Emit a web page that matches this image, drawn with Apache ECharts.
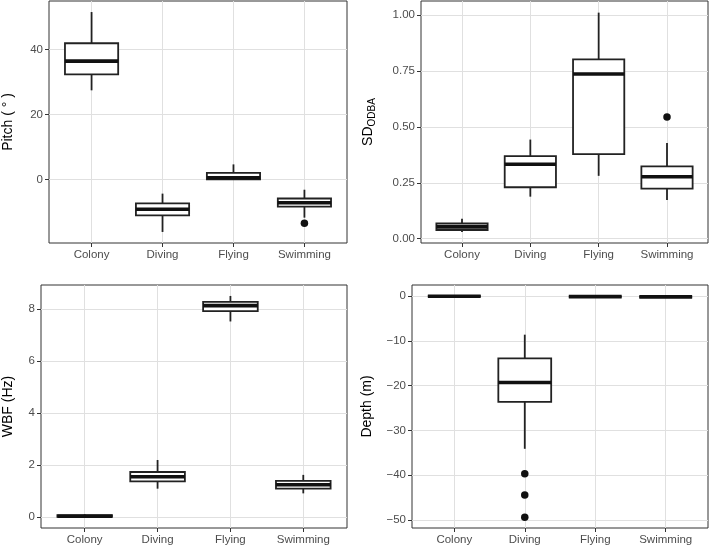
<!DOCTYPE html>
<html>
<head>
<meta charset="utf-8">
<script src="https://cdn.jsdelivr.net/npm/echarts@6/dist/echarts.min.js"></script>
<style>
  html, body { margin: 0; padding: 0; background: #fff; }
  #chart { width: 709px; height: 546px; }
</style>
</head>
<body>
<div id="chart"></div>
<script>
// ---------- data ----------
const categories = ['Colony', 'Diving', 'Flying', 'Swimming'];

// each row: [lower whisker, Q1, median, Q3, upper whisker]
const pitchBox = [
  [27.5, 32.4, 36.5, 42.0, 51.6],
  [-16.1, -11.0, -9.1, -7.3, -4.3],
  [0.0, 0.1, 0.6, 2.1, 4.7],
  [-11.7, -8.3, -7.1, -5.8, -3.1]
];
const pitchOutliers = [['Swimming', -13.4]];

const sdBox = [
  [0.030, 0.039, 0.053, 0.068, 0.089],
  [0.188, 0.230, 0.333, 0.369, 0.443],
  [0.281, 0.378, 0.736, 0.801, 1.010],
  [0.173, 0.224, 0.277, 0.323, 0.428]
];
const sdOutliers = [['Swimming', 0.544]];

const wbfBox = [
  [0.00, 0.02, 0.04, 0.08, 0.12],
  [1.10, 1.38, 1.56, 1.74, 2.20],
  [7.52, 7.92, 8.13, 8.27, 8.50],
  [0.92, 1.10, 1.25, 1.40, 1.63]
];
const wbfOutliers = [];

const depthBox = [
  [0.0, 0.0, 0.0, 0.0, 0.0],
  [-34.1, -23.6, -19.3, -13.9, -8.6],
  [-0.1, -0.1, -0.1, -0.1, -0.1],
  [-0.15, -0.15, -0.15, -0.15, -0.15]
];
const depthOutliers = [['Diving', -39.7], ['Diving', -44.4], ['Diving', -49.4]];

const pitchTicks = [0, 20, 40];
const sdTicks = [0, 0.25, 0.5, 0.75, 1.0];
const wbfTicks = [0, 2, 4, 6, 8];
const depthTicks = [0, -10, -20, -30, -40, -50];

// ---------- styling ----------
const FONT = 'Liberation Sans, Arial, sans-serif';
const INK = '#222';
const GRIDC = '#e0e0e0';
const catPos = categories.map((c, i) => i + 1);

const panels = [
  { box: pitchBox, out: pitchOutliers, ticks: pitchTicks, min: -19.5, max: 55.0,
    grid: { left: 48, top: 1, width: 299, height: 242 },
    name: 'Pitch ( ° )', nameGap: 34, fmt: v => String(v) },
  { box: sdBox, out: sdOutliers, ticks: sdTicks, min: -0.019, max: 1.062,
    grid: { left: 421, top: 1, width: 287, height: 242 },
    name: '{a|SD}{b|ODBA}', nameGap: 44, fmt: v => v.toFixed(2) },
  { box: wbfBox, out: wbfOutliers, ticks: wbfTicks, min: -0.41, max: 8.92,
    grid: { left: 39, top: 285, width: 308, height: 243 },
    name: 'WBF (Hz)', nameGap: 26, fmt: v => String(v) },
  { box: depthBox, out: depthOutliers, ticks: depthTicks, min: -51.8, max: 2.5,
    grid: { left: 412, top: 285, width: 296, height: 243 },
    name: 'Depth (m)', nameGap: 38, fmt: v => String(v).replace('-', '\u2212') }
];

function renderBox(params, api) {
  const x = api.value(0);
  const lo = api.coord([x, api.value(1)]);
  const q1 = api.coord([x, api.value(2)]);
  const md = api.coord([x, api.value(3)]);
  const q3 = api.coord([x, api.value(4)]);
  const hi = api.coord([x, api.value(5)]);
  const hw = api.size([0.75, 0])[0] / 2;
  return {
    type: 'group',
    children: [
      { type: 'line', shape: { x1: lo[0], y1: lo[1], x2: q1[0], y2: q1[1] },
        style: { stroke: INK, lineWidth: 1.8 } },
      { type: 'line', shape: { x1: q3[0], y1: q3[1], x2: hi[0], y2: hi[1] },
        style: { stroke: INK, lineWidth: 1.8 } },
      { type: 'rect', shape: { x: q3[0] - hw, y: q3[1], width: 2 * hw, height: q1[1] - q3[1] },
        style: { fill: '#fff', stroke: INK, lineWidth: 1.8 } },
      { type: 'line', shape: { x1: md[0] - hw, y1: md[1], x2: md[0] + hw, y2: md[1] },
        style: { stroke: '#111', lineWidth: 3.6 } }
    ]
  };
}

const option = {
  animation: false,
  backgroundColor: '#fff',
  grid: [], xAxis: [], yAxis: [], series: []
};

panels.forEach((p, i) => {
  option.grid.push(Object.assign({ show: true, borderColor: '#333', borderWidth: 1,
    backgroundColor: 'transparent' }, p.grid));
  option.xAxis.push({
    type: 'value', gridIndex: i, min: 0.4, max: 4.6,
    axisLine: { show: false, onZero: false },
    axisTick: { show: true, customValues: catPos, length: 4, lineStyle: { color: '#333', width: 1 } },
    axisLabel: { customValues: catPos, formatter: v => categories[Math.round(v) - 1],
      margin: 6, fontSize: 11.5, color: '#4d4d4d', fontFamily: FONT },
    splitLine: { show: true, lineStyle: { color: GRIDC, width: 1 } }
  });
  option.yAxis.push({
    type: 'value', gridIndex: i, min: p.min, max: p.max,
    axisLine: { show: false, onZero: false },
    axisTick: { show: true, customValues: p.ticks, length: 4, lineStyle: { color: '#333', width: 1 } },
    axisLabel: { customValues: p.ticks, formatter: p.fmt, margin: 6, fontSize: 11.5,
      color: '#4d4d4d', fontFamily: FONT },
    splitLine: { show: true, lineStyle: { color: GRIDC, width: 1 } },
    name: p.name, nameLocation: 'middle', nameGap: p.nameGap,
    nameTextStyle: { fontSize: 14, color: '#000', fontFamily: FONT,
      rich: {
        a: { fontSize: 14, color: '#000', fontFamily: FONT, lineHeight: 17, verticalAlign: 'middle' },
        b: { fontSize: 10, color: '#000', fontFamily: FONT, lineHeight: 17, verticalAlign: 'bottom' }
      } }
  });
  option.series.push({
    type: 'custom', xAxisIndex: i, yAxisIndex: i,
    renderItem: renderBox,
    encode: { x: 0, y: [1, 2, 3, 4, 5] },
    data: categories.map((c, k) => [k + 1].concat(p.box[k]))
  });
  option.series.push({
    type: 'scatter', xAxisIndex: i, yAxisIndex: i,
    symbolSize: 7.5, itemStyle: { color: '#111', opacity: 1 },
    data: p.out.map(o => [categories.indexOf(o[0]) + 1, o[1]])
  });
});

const chart = echarts.init(document.getElementById('chart'), null, { renderer: 'canvas' });
chart.setOption(option);
</script>
</body>
</html>
